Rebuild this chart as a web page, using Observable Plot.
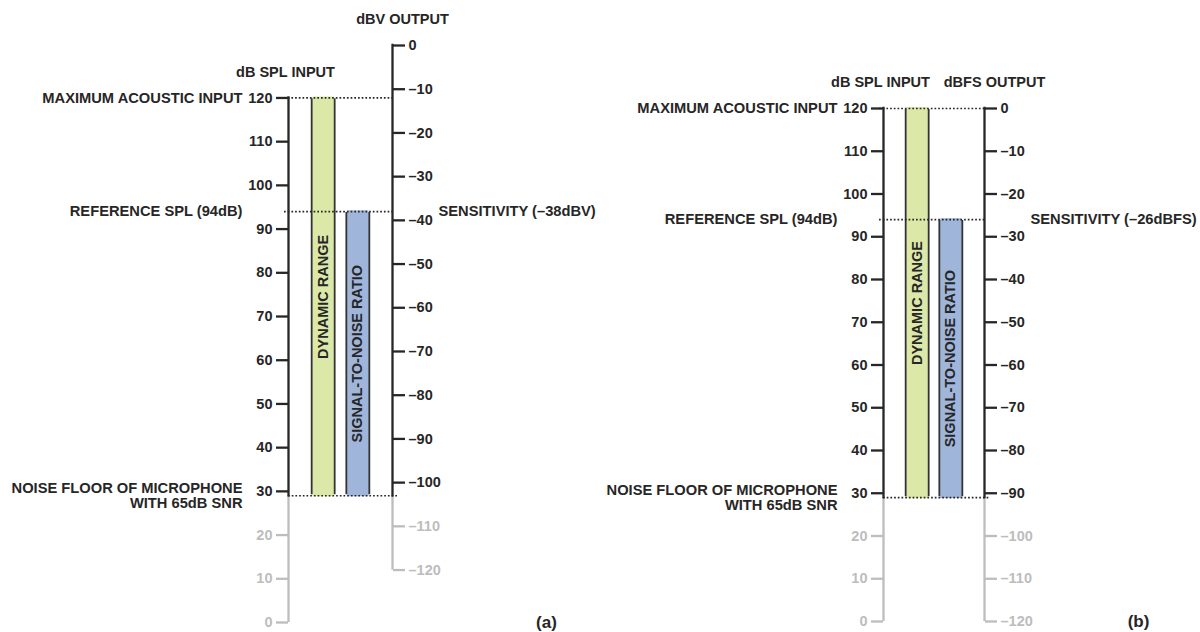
<!DOCTYPE html>
<html>
<head>
<meta charset="utf-8">
<script src="https://cdn.jsdelivr.net/npm/d3@7"></script>
<script src="https://cdn.jsdelivr.net/npm/@observablehq/plot@0.6"></script>
<style>
  body { margin: 0; background: #fff; }
  #figure { display: flex; width: 1200px; height: 632px; }
</style>
</head>
<body>
<div id="figure"></div>
<script>
// Acoustic input scale, dB SPL (left axis of both panels)
const inputTicks = [0, 10, 20, 30, 40, 50, 60, 70, 80, 90, 100, 110, 120];
// Output scales: analog microphone (dBV) and digital microphone (dBFS)
const dbvTicks = [0, -10, -20, -30, -40, -50, -60, -70, -80, -90, -100, -110, -120];
const dbfsTicks = [0, -10, -20, -30, -40, -50, -60, -70, -80, -90, -100, -110, -120];

// Microphone specification
const maxAcousticInput = 120;            // dB SPL
const referenceSPL = 94;                 // dB SPL
const snr = 65;                          // dB
const noiseFloor = referenceSPL - snr;   // 29 dB SPL
const sensitivityDBV = -38;              // dBV at 94 dB SPL
const sensitivityDBFS = -26;             // dBFS at 94 dB SPL

const barNames = ["DYNAMIC RANGE", "SIGNAL-TO-NOISE RATIO"];
const barLows = [noiseFloor, noiseFloor];
const barHighs = [maxAcousticInput, referenceSPL];

const levelTexts = ["MAXIMUM ACOUSTIC INPUT", "REFERENCE SPL (94dB)", "NOISE FLOOR OF MICROPHONE\nWITH 65dB SNR"];
const levelValues = [maxAcousticInput, referenceSPL, noiseFloor];

const panelTags = ["(a)", "(b)"];
const outputTitles = ["dBV OUTPUT", "dBFS OUTPUT"];
const outputUnits = ["dBV", "dBFS"];
const sensitivities = [sensitivityDBV, sensitivityDBFS];
const outputTickSets = [dbvTicks, dbfsTicks];

// Page layout of each panel (frame = span between the two axes)
const layouts = [
  {marginLeft: 288, marginRight: 208, marginTop: 45, marginBottom: 10},
  {marginLeft: 283, marginRight: 216, marginTop: 108, marginBottom: 11}
];

const ink = "#262626";
const faint = "#bdbdbd";
const outline = "#333333";
const barColors = ["#dce8a8", "#9fb5da"];
const barWidth = 23;
const barStroke = 1.8;
const font = "'Liberation Sans', Arial, Helvetica, sans-serif";

const fmt = (v) => (v < 0 ? "\u2013" + Math.abs(v) : String(v));

const bars = barNames.map((name, i) => ({name, low: barLows[i], high: barHighs[i]}));
const levels = levelTexts.map((text, i) => ({text, spl: levelValues[i]}));

function drawPanel(k) {
  const inputCol = "dB SPL INPUT";
  const outputCol = outputTitles[k];
  const columns = [inputCol, ...barNames, outputCol];
  const outTicks = outputTickSets[k];
  // SPL level that corresponds to 0 on the output scale
  const offset = referenceSPL - sensitivities[k];
  const inMin = d3.min(inputTicks), inMax = d3.max(inputTicks);
  const outTop = d3.max(outTicks) + offset, outBottom = d3.min(outTicks) + offset;
  const outPositions = outTicks.map((v) => v + offset);
  const live = (v) => v >= noiseFloor;

  const spinesLive = [
    {col: inputCol, y1: noiseFloor, y2: inMax},
    {col: outputCol, y1: noiseFloor, y2: outTop}
  ];
  const spinesFaint = [
    {col: inputCol, y1: inMin, y2: noiseFloor},
    {col: outputCol, y1: outBottom, y2: noiseFloor}
  ];

  const textStyle = {fill: ink, fontWeight: "bold", fontFamily: font};
  const axisStyle = {tickSize: 12, tickPadding: 4, strokeWidth: 2.3, fontSize: 14.5, fontWeight: "bold", label: null};

  return Plot.plot({
    width: 600,
    height: 632,
    ...layouts[k],
    style: {fontFamily: font, background: "#fff", overflow: "visible"},
    x: {type: "point", domain: columns, padding: 0, round: false, axis: null},
    y: {domain: [Math.min(inMin, outBottom), Math.max(inMax, outTop)], axis: null},
    color: {domain: barNames, range: barColors},
    marks: [
      // axis lines: active above the noise floor, greyed below it
      Plot.ruleX(spinesFaint, {x: "col", y1: "y1", y2: "y2", stroke: faint, strokeWidth: 2.3}),
      Plot.ruleX(spinesLive, {x: "col", y1: "y1", y2: "y2", stroke: ink, strokeWidth: 2.3, strokeLinecap: "square"}),
      // input axis ticks
      Plot.axisY(inputTicks.filter((v) => !live(v)), {anchor: "left", ...axisStyle, stroke: faint, fill: faint, tickFormat: fmt}),
      Plot.axisY(inputTicks.filter(live), {anchor: "left", ...axisStyle, stroke: ink, fill: ink, tickFormat: fmt}),
      // output axis ticks, placed at their equivalent SPL
      Plot.axisY(outPositions.filter((v) => !live(v)), {anchor: "right", ...axisStyle, stroke: faint, fill: faint, tickFormat: (d) => fmt(d - offset)}),
      Plot.axisY(outPositions.filter(live), {anchor: "right", ...axisStyle, stroke: ink, fill: ink, tickFormat: (d) => fmt(d - offset)}),
      // dynamic range and SNR bars: outlined columns between low and high levels
      Plot.ruleX(bars, {x: "name", y1: "low", y2: "high", stroke: outline, strokeWidth: barWidth + barStroke, insetTop: -barStroke / 2, insetBottom: -barStroke / 2}),
      Plot.ruleX(bars, {x: "name", y1: "low", y2: "high", stroke: "name", strokeWidth: barWidth - barStroke, insetTop: barStroke / 2, insetBottom: barStroke / 2}),
      Plot.text(bars, {x: "name", y: (d) => (d.low + d.high) / 2, text: "name", rotate: -90, fontSize: 14.5, ...textStyle}),
      // dotted reference levels
      Plot.ruleY(levels.filter((d) => d.spl !== noiseFloor), {y: "spl", x1: () => inputCol, x2: () => outputCol, stroke: ink, strokeWidth: 1.7, strokeDasharray: "1.7,2", insetLeft: -4}),
      Plot.ruleY(levels.filter((d) => d.spl === noiseFloor), {y: "spl", x1: () => inputCol, x2: () => outputCol, stroke: ink, strokeWidth: 1.7, strokeDasharray: "1.7,2", insetRight: -6}),
      // level annotations
      Plot.text(levels, {x: () => inputCol, y: "spl", text: "text", textAnchor: "end", lineAnchor: "middle", lineHeight: 1, dx: -46, fontSize: 14.7, ...textStyle}),
      Plot.text([`SENSITIVITY (${fmt(sensitivities[k])}${outputUnits[k]})`], {x: () => outputCol, y: () => referenceSPL, text: (d) => d, textAnchor: "start", dx: 46, fontSize: 14.7, ...textStyle}),
      // axis titles
      Plot.text([inputCol], {x: (d) => d, y: () => inMax, text: (d) => d, dy: -26, dx: -3, fontSize: 14.5, ...textStyle}),
      Plot.text([outputCol], {x: (d) => d, y: () => outTop, text: (d) => d, dy: -26, dx: 10, fontSize: 14.5, ...textStyle}),
      // panel tag
      Plot.text([panelTags[k]], {x: () => outputCol, y: () => inMin, text: (d) => d, dx: 154, fontSize: 17, ...textStyle})
    ]
  });
}

const figure = document.getElementById("figure");
figure.append(drawPanel(0), drawPanel(1));
</script>
</body>
</html>
